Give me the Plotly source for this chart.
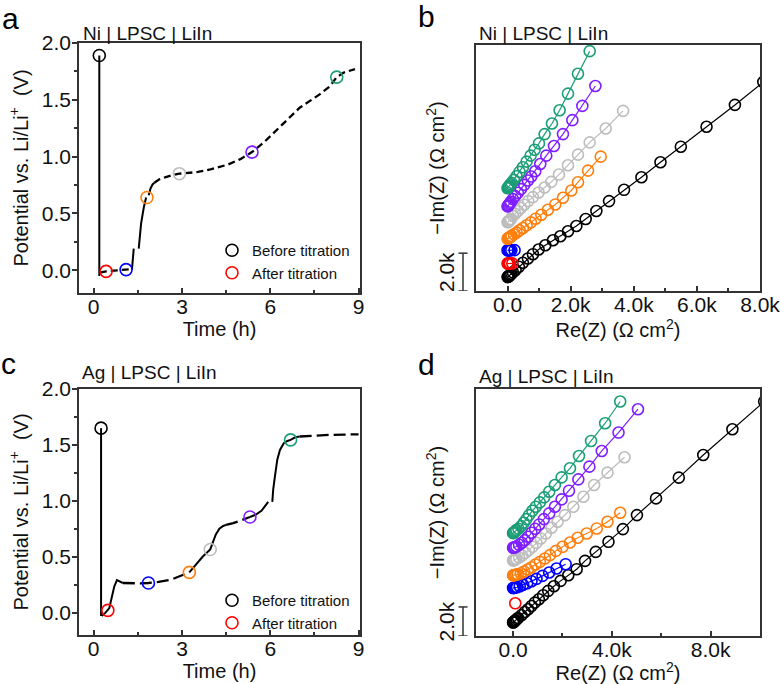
import plotly.graph_objects as go

# ---------------- colours ----------------
BLACK = "#000000"
RED = "#ff0000"
BLUE = "#0000ff"
ORANGE = "#ff7f0e"
GRAY = "#bdbdbd"
PURPLE = "#7f1fff"
GREEN = "#1b9e77"
STEP_COLORS = [BLACK, RED, BLUE, ORANGE, GRAY, PURPLE, GREEN]

# ---------------- panel a : Ni | LPSC | LiIn, potential vs time ----------------
A_SOLID_T = [0.19, 0.19, None, 1.30, 1.33, 1.36, None,
             1.53, 1.61, 1.70, 1.78, None, 1.87, 1.93, 2.00, 2.06]
A_SOLID_V = [1.89, -0.05, None, 0.005, 0.08, 0.19, None,
             0.19, 0.41, 0.55, 0.64, None, 0.66, 0.72, 0.755, 0.77]
A_DASH_T = [0.21, 0.42, 0.80, 1.10, 1.28, None,
            2.06, 2.23, 2.45, 2.63, 2.91, 3.54, 4.00, 4.56, 5.00, 5.38,
            5.80, 6.21, 6.60, 7.00, 7.40, 7.69, 8.03, 8.26, 8.50, 8.88]
A_DASH_V = [-0.02, -0.01, 0.0, 0.006, 0.01, None,
            0.77, 0.80, 0.82, 0.835, 0.85, 0.865, 0.89, 0.93, 0.98, 1.04,
            1.13, 1.236, 1.33, 1.43, 1.50, 1.55, 1.62, 1.70, 1.74, 1.77]
A_MARK_T = [0.19, 0.42, 1.10, 1.81, 2.91, 5.38, 8.26]
A_MARK_V = [1.89, -0.01, 0.006, 0.64, 0.85, 1.04, 1.70]

# ---------------- panel c : Ag | LPSC | LiIn, potential vs time ----------------
C_SOLID_T = [0.25, 0.25, None,
             0.27, 0.40, 0.53, 0.62, 0.70, 0.79, 0.87, 0.99, None,
             3.25, 3.45, 3.70, 3.96, 4.05, 4.15, 4.27, 4.40, 4.50, None,
             5.31, 5.50, 5.70, 5.93, None,
             6.07, 6.10, 6.16, 6.24, 6.33, 6.46, 6.58, 6.69, 6.85, 7.00]
C_SOLID_V = [1.65, -0.03, None,
             -0.03, 0.0, 0.04, 0.13, 0.235, 0.29, 0.28, 0.265, None,
             0.36, 0.42, 0.50, 0.565, 0.63, 0.70, 0.75, 0.775, 0.785, None,
             0.855, 0.875, 0.91, 0.99, None,
             0.99, 1.10, 1.22, 1.37, 1.455, 1.515, 1.535, 1.545, 1.568, 1.575]
C_DASH_T = [0.99, 1.30, 1.60, 1.86, 2.20, 2.63, 3.00, 3.25, None,
            4.50, 4.74, 5.00, 5.31, None,
            7.00, 7.50, 8.00, 8.50, 9.00]
C_DASH_V = [0.265, 0.262, 0.262, 0.265, 0.275, 0.295, 0.33, 0.36, None,
            0.785, 0.80, 0.825, 0.855, None,
            1.575, 1.585, 1.59, 1.592, 1.595]
C_MARK_T = [0.25, 0.48, 1.86, 3.25, 3.96, 5.31, 6.69]
C_MARK_V = [1.65, 0.02, 0.265, 0.36, 0.565, 0.855, 1.545]

# ---------------- panel b : Ni impedance (offset stacked, Ohm cm2) ----------------
B_RE = {
    "black": [0, 15, 30, 45, 60, 85, 120, 169, 254, 360, 487, 645, 804, 984, 1196, 1439,
              1672, 1915, 2180, 2476, 2814, 3216, 3692, 4243, 4846, 5491, 6306, 7205, 8104],
    "red": [0, 15, 30, 50, 75, 150],
    "blue": [0, 15, 30, 50, 75, 120, 222],
    "orange": [0, 15, 30, 45, 63, 90, 127, 201, 286, 381, 487, 603, 741, 889, 1069, 1280,
               1513, 1756, 2021, 2232, 2550, 2952],
    "gray": [0, 15, 30, 53, 80, 106, 169, 243, 328, 423, 529, 656, 804, 984, 1174, 1386,
             1629, 1915, 2232, 2603, 3111, 3661],
    "purple": [0, 15, 30, 53, 80, 106, 169, 243, 328, 423, 529, 645, 751, 878, 1037, 1227,
               1471, 1756, 2053, 2370, 2783],
    "green": [0, 15, 30, 45, 63, 95, 127, 201, 286, 381, 487, 603, 730, 857, 995, 1174,
              1407, 1650, 1915, 2232, 2603],
}
B_IM = {
    "black": [735, 750, 770, 790, 810, 859, 910, 982, 1104, 1280, 1490, 1718, 1946, 2191,
              2419, 2682, 2892, 3155, 3436, 3804, 4225, 4751, 5347, 6013, 6802, 7626, 8677,
              9834, 11044],
    "red": [1450, 1451, 1452, 1453, 1455, 1458],
    "blue": [2150, 2151, 2152, 2153, 2155, 2158, 2160],
    "orange": [2760, 2770, 2785, 2800, 2840, 2870, 2910, 2998, 3085, 3208, 3331, 3471,
               3629, 3822, 4032, 4295, 4575, 4926, 5312, 5750, 6363, 7100],
    "gray": [3630, 3646, 3670, 3710, 3760, 3800, 3962, 4084, 4225, 4383, 4558, 4751,
             4961, 5206, 5469, 5767, 6153, 6644, 7205, 7853, 8590, 9519],
    "purple": [4470, 4488, 4520, 4593, 4650, 4716, 4856, 5014, 5189, 5382, 5610, 5837,
               6048, 6328, 6714, 7152, 7661, 8292, 9028, 9782, 10834],
    "green": [5430, 5452, 5490, 5530, 5575, 5640, 5715, 5873, 6065, 6293, 6539, 6837, 7152,
              7468, 7801, 8292, 8853, 9554, 10430, 11482, 12674],
}

# ---------------- panel d : Ag impedance (offset stacked, Ohm cm2) ----------------
D_RE = {
    "black": [0, 15, 27, 55, 80, 108, 150, 203, 339, 475, 610, 746, 881, 1044, 1220, 1424,
              1654, 1926, 2237, 2576, 2915, 3349, 3865, 4448, 5017, 5790, 6712, 7702, 8882,
              10170],
    "red": [90],
    "blue": [0, 20, 40, 68, 110, 163, 271, 407, 570, 746, 949, 1193, 1464, 1763, 2129],
    "orange": [0, 20, 40, 81, 130, 190, 312, 447, 597, 746, 909, 1085, 1288, 1492, 1736,
               2007, 2305, 2617, 2983, 3390, 3824, 4339],
    "gray": [0, 20, 45, 80, 136, 244, 366, 502, 637, 786, 949, 1125, 1329, 1559, 1803,
             2102, 2441, 2848, 3282, 3824, 4515],
    "purple": [0, 20, 45, 80, 136, 244, 353, 475, 610, 746, 895, 1058, 1248, 1464, 1695,
               1966, 2265, 2644, 3092, 3593, 4271, 5058],
    "green": [0, 15, 30, 54, 95, 136, 217, 325, 434, 542, 651, 786, 922, 1085, 1261, 1464,
              1695, 1966, 2305, 2671, 3159, 3729, 4339],
}
D_IM = {
    "black": [930, 945, 966, 1010, 1045, 1081, 1160, 1241, 1425, 1655, 1839, 2069, 2299,
              2529, 2805, 3104, 3426, 3793, 4184, 4598, 5173, 5793, 6483, 7357, 8322, 9472,
              10897, 12461, 14231, 16139],
    "red": [2250],
    "blue": [3300, 3305, 3311, 3334, 3345, 3357, 3426, 3517, 3632, 3770, 3931, 4138,
             4368, 4644, 4943],
    "orange": [4175, 4180, 4184, 4207, 4230, 4253, 4322, 4437, 4575, 4736, 4920, 5104,
               5334, 5564, 5862, 6138, 6437, 6759, 7058, 7403, 7863, 8483],
    "gray": [5200, 5210, 5219, 5260, 5311, 5403, 5541, 5725, 5908, 6138, 6414, 6713, 7058,
             7449, 7863, 8322, 8897, 9587, 10391, 11242, 12300],
    "purple": [6070, 6080, 6092, 6120, 6161, 6276, 6414, 6598, 6828, 7104, 7380, 7679,
               8047, 8437, 8897, 9403, 10001, 10782, 11656, 12736, 14001, 15610],
    "green": [7080, 7095, 7104, 7160, 7219, 7300, 7380, 7564, 7794, 8047, 8322, 8621, 8897,
              9196, 9541, 9932, 10391, 10920, 11541, 12392, 13426, 14645, 16139, 17748],
}
SERIES_COLORS = {"black": BLACK, "red": RED, "blue": BLUE, "orange": ORANGE,
                 "gray": GRAY, "purple": PURPLE, "green": GREEN}

SCALE_BAR = 2000  # Ohm cm2
X_TICKS_T = [0, 3, 6, 9]
B_TICKS = [0, 2000, 4000, 6000, 8000]
B_TICKTEXT = ["0.0", "2.0k", "4.0k", "6.0k", "8.0k"]
D_TICKS = [0, 4000, 8000]
D_TICKTEXT = ["0.0", "4.0k", "8.0k"]

FONT = "Liberation Sans, Arial, sans-serif"
W, H = 780, 684
AX_COLOR = "#333333"
TICK_SIZE = 21
TITLE_SIZE = 20

fig = go.Figure()


def add_time_panel(xa, ya, st, sv, dt, dv, mt, mv, dash, legend):
    fig.add_trace(go.Scatter(x=st, y=sv, mode="lines", xaxis=xa, yaxis=ya,
                             line=dict(color=BLACK, width=2), showlegend=False,
                             connectgaps=False))
    fig.add_trace(go.Scatter(x=dt, y=dv, mode="lines", xaxis=xa, yaxis=ya,
                             line=dict(color=BLACK, width=2.3, dash=dash),
                             showlegend=False, connectgaps=False))
    fig.add_trace(go.Scatter(x=mt[2:], y=mv[2:], mode="markers", xaxis=xa, yaxis=ya,
                             marker=dict(symbol="circle-open", size=12,
                                         color=STEP_COLORS[2:], line=dict(width=1.6)),
                             showlegend=False))
    fig.add_trace(go.Scatter(x=mt[0:1], y=mv[0:1], mode="markers", xaxis=xa, yaxis=ya,
                             name="Before titration", legend=legend,
                             marker=dict(symbol="circle-open", size=12, color=BLACK,
                                         line=dict(width=1.6))))
    fig.add_trace(go.Scatter(x=mt[1:2], y=mv[1:2], mode="markers", xaxis=xa, yaxis=ya,
                             name="After titration", legend=legend,
                             marker=dict(symbol="circle-open", size=12, color=RED,
                                         line=dict(width=1.6))))


def add_eis_panel(xa, ya, re, im):
    for key in ["black", "red", "blue", "orange", "gray", "purple", "green"]:
        c = SERIES_COLORS[key]
        fig.add_trace(go.Scatter(x=re[key], y=im[key], mode="lines+markers",
                                 xaxis=xa, yaxis=ya, showlegend=False,
                                 line=dict(color=c, width=1.2),
                                 marker=dict(symbol="circle-open", size=11, color=c,
                                             line=dict(width=1.6))))


add_time_panel("x", "y", A_SOLID_T, A_SOLID_V, A_DASH_T, A_DASH_V, A_MARK_T, A_MARK_V,
               "7px,4px", "legend")
add_eis_panel("x2", "y2", B_RE, B_IM)
add_time_panel("x3", "y3", C_SOLID_T, C_SOLID_V, C_DASH_T, C_DASH_V, C_MARK_T, C_MARK_V,
               "12px,5px", "legend2")
add_eis_panel("x4", "y4", D_RE, D_IM)

XL = [79 / W, 360 / W]
XR = [476 / W, 760 / W]
YT_A = [1 - 293 / H, 1 - 43 / H]
YT_B = [1 - 291 / H, 1 - 45 / H]
YB_C = [1 - 635 / H, 1 - 389 / H]
YB_D = [1 - 636 / H, 1 - 389 / H]

common = dict(showline=True, linecolor=AX_COLOR, linewidth=1.6, mirror=True,
              showgrid=False, zeroline=False, automargin=False,
              ticklabeloverflow="allow",
              tickfont=dict(size=TICK_SIZE, family=FONT, color="#111111"),
              tickcolor=AX_COLOR)

xtime = dict(common, range=[-0.5, 9.05], tickvals=X_TICKS_T, ticks="inside",
             ticklen=5, tickwidth=1.5, ticklabelstandoff=-6,
             minor=dict(dtick=1.5, tick0=0, ticks="inside", ticklen=3, tickcolor=AX_COLOR),
             title=dict(text="Time (h)", font=dict(size=TITLE_SIZE, family=FONT),
                        standoff=2))
ytime = dict(common, range=[-0.2, 2.0], dtick=0.5, tickformat=".1f", ticks="outside",
             ticklen=5, tickwidth=1.5, ticklabelstandoff=-3,
             minor=dict(dtick=0.25, tick0=0, ticks="outside", ticklen=3, tickcolor=AX_COLOR),
             title=dict(text="Potential vs. Li/Li<sup>+</sup>  (V)",
                        font=dict(size=TITLE_SIZE, family=FONT), standoff=8))
xeis = dict(common, ticks="inside", ticklen=5, tickwidth=1.5, ticklabelstandoff=-6,
            title=dict(text="Re(Z) (Ω cm<sup>2</sup>)",
                       font=dict(size=TITLE_SIZE, family=FONT), standoff=3))
yeis = dict(common, showticklabels=False, ticks="",
            title=dict(text="−Im(Z) (Ω cm<sup>2</sup>)",
                       font=dict(size=TITLE_SIZE, family=FONT), standoff=24))

fig.update_layout(
    width=W, height=H, margin=dict(l=0, r=0, t=0, b=0),
    paper_bgcolor="white", plot_bgcolor="white",
    font=dict(family=FONT, size=19, color="#111111"),
    xaxis=dict(xtime, domain=XL, anchor="y"),
    yaxis=dict(ytime, domain=YT_A, anchor="x"),
    xaxis2=dict(xeis, domain=XR, anchor="y2", range=[-1000, 8000], tickvals=B_TICKS,
                ticktext=B_TICKTEXT,
                minor=dict(dtick=1000, tick0=0, ticks="inside", ticklen=3,
                           tickcolor=AX_COLOR)),
    yaxis2=dict(yeis, domain=YT_B, anchor="x2", range=[0, 13000]),
    xaxis3=dict(xtime, domain=XL, anchor="y3"),
    yaxis3=dict(ytime, domain=YB_C, anchor="x3"),
    xaxis4=dict(xeis, domain=XR, anchor="y4", range=[-1500, 10000], tickvals=D_TICKS,
                ticktext=D_TICKTEXT,
                minor=dict(dtick=2000, tick0=0, ticks="inside", ticklen=3,
                           tickcolor=AX_COLOR)),
    yaxis4=dict(yeis, domain=YB_D, anchor="x4", range=[0, 17000]),
    legend=dict(x=212 / W, y=1 - 234 / H, xanchor="left", yanchor="top",
                bgcolor="rgba(0,0,0,0)", font=dict(size=15, family=FONT),
                itemwidth=30, tracegroupgap=0),
    legend2=dict(x=212 / W, y=1 - 584 / H, xanchor="left", yanchor="top",
                 bgcolor="rgba(0,0,0,0)", font=dict(size=15, family=FONT),
                 itemwidth=30, tracegroupgap=0),
)

# scale bars for the stacked impedance panels
for ya, yv in [("y2", SCALE_BAR), ("y4", SCALE_BAR)]:
    xb = 463 / W
    cap = 4.5 / W
    fig.add_shape(type="line", xref="paper", yref=ya, x0=xb, x1=xb, y0=0, y1=yv,
                  line=dict(color=AX_COLOR, width=1.5))
    fig.add_shape(type="line", xref="paper", yref=ya, x0=xb - cap, x1=xb + cap, y0=0,
                  y1=0, line=dict(color=AX_COLOR, width=1.5))
    fig.add_shape(type="line", xref="paper", yref=ya, x0=xb - cap, x1=xb + cap, y0=yv,
                  y1=yv, line=dict(color=AX_COLOR, width=1.5))
    fig.add_annotation(text="2.0k", xref="paper", yref=ya, x=446 / W, y=yv / 2,
                       textangle=-90, showarrow=False,
                       font=dict(size=TICK_SIZE, family=FONT),
                       xanchor="center", yanchor="middle")

# panel titles
for txt, x, y in [("Ni | LPSC | LiIn", 81, 33), ("Ni | LPSC | LiIn", 477, 34),
                  ("Ag | LPSC | LiIn", 80, 373), ("Ag | LPSC | LiIn", 477, 376)]:
    fig.add_annotation(text=txt, xref="paper", yref="paper", x=x / W, y=1 - y / H,
                       xanchor="left", yanchor="middle", showarrow=False,
                       font=dict(size=19, family=FONT))

# panel letters
fig.add_annotation(text="a", xref="paper", yref="paper", x=0, y=1,
                   xanchor="left", yanchor="top", showarrow=False,
                   font=dict(size=30, family=FONT, color="#000000"))
for txt, x, y in [("b", 416, 16), ("c", -1, 363), ("d", 416, 364)]:
    fig.add_annotation(text=txt, xref="paper", yref="paper", x=x / W, y=1 - y / H,
                       xanchor="left", yanchor="middle", showarrow=False,
                       font=dict(size=30, family=FONT, color="#000000"))

fig.write_html("out.html")
